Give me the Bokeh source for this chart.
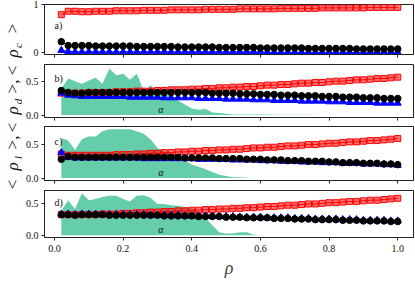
import math
from bokeh.plotting import figure
from bokeh.layouts import row, column
from bokeh.models import Range1d, FixedTicker, PrintfTickFormatter, CustomJSTickFormatter, Label
from bokeh.embed import file_html
from bokeh.resources import INLINE

# ---------------- data ----------------
rho = [0.02, 0.04, 0.06, 0.08, 0.10, 0.12, 0.14, 0.16, 0.18, 0.20,
       0.22, 0.24, 0.26, 0.28, 0.30, 0.32, 0.34, 0.36, 0.38, 0.40,
       0.42, 0.44, 0.46, 0.48, 0.50, 0.52, 0.54, 0.56, 0.58, 0.60,
       0.62, 0.64, 0.66, 0.68, 0.70, 0.72, 0.74, 0.76, 0.78, 0.80,
       0.82, 0.84, 0.86, 0.88, 0.90, 0.92, 0.94, 0.96, 0.98, 1.00]

# panel a
red_a = [0.79, 0.86, 0.86, 0.85, 0.85, 0.86, 0.86, 0.86, 0.87, 0.87,
         0.87, 0.87, 0.88, 0.88, 0.88, 0.88, 0.89, 0.89, 0.89, 0.89,
         0.89, 0.90, 0.90, 0.90, 0.90, 0.90, 0.91, 0.91, 0.91, 0.91,
         0.91, 0.91, 0.92, 0.92, 0.92, 0.92, 0.92, 0.92, 0.93, 0.93,
         0.93, 0.93, 0.93, 0.93, 0.93, 0.94, 0.94, 0.94, 0.94, 0.94]
black_a = [0.23, 0.15, 0.15, 0.15, 0.15, 0.14, 0.14, 0.14, 0.14, 0.14,
           0.14, 0.13, 0.13, 0.13, 0.13, 0.13, 0.13, 0.12, 0.12, 0.12,
           0.12, 0.12, 0.12, 0.11, 0.11, 0.11, 0.11, 0.11, 0.11, 0.10,
           0.10, 0.10, 0.10, 0.10, 0.10, 0.10, 0.09, 0.09, 0.09, 0.09,
           0.09, 0.09, 0.09, 0.08, 0.08, 0.08, 0.08, 0.08, 0.08, 0.08]
blue_a = [0.05, 0.03, 0.02, 0.02, 0.02, 0.02, 0.02, 0.02, 0.02, 0.02,
          0.02, 0.02, 0.02, 0.02, 0.02, 0.02, 0.02, 0.02, 0.02, 0.02,
          0.02, 0.02, 0.02, 0.02, 0.02, 0.02, 0.02, 0.02, 0.02, 0.02,
          0.01, 0.01, 0.01, 0.01, 0.01, 0.01, 0.01, 0.01, 0.01, 0.01,
          0.01, 0.01, 0.01, 0.01, 0.01, 0.01, 0.01, 0.01, 0.01, 0.01]

# panel b
red_b = [0.33, 0.33, 0.33, 0.33, 0.34, 0.34, 0.34, 0.34, 0.35, 0.35,
         0.35, 0.36, 0.36, 0.36, 0.37, 0.37, 0.38, 0.38, 0.38, 0.39,
         0.39, 0.40, 0.40, 0.41, 0.41, 0.42, 0.42, 0.43, 0.43, 0.44,
         0.45, 0.45, 0.46, 0.46, 0.47, 0.48, 0.48, 0.49, 0.49, 0.50,
         0.51, 0.51, 0.52, 0.53, 0.53, 0.54, 0.55, 0.55, 0.56, 0.57]
black_b = [0.37, 0.34, 0.33, 0.33, 0.34, 0.34, 0.34, 0.34, 0.34, 0.34,
           0.34, 0.34, 0.34, 0.34, 0.34, 0.34, 0.34, 0.34, 0.34, 0.34,
           0.34, 0.34, 0.33, 0.33, 0.33, 0.33, 0.32, 0.32, 0.32, 0.31,
           0.31, 0.31, 0.30, 0.30, 0.30, 0.29, 0.29, 0.29, 0.28, 0.28,
           0.28, 0.27, 0.27, 0.27, 0.26, 0.26, 0.26, 0.25, 0.25, 0.25]
blue_b = [0.33, 0.30, 0.29, 0.28, 0.28, 0.28, 0.28, 0.28, 0.28, 0.28,
          0.27, 0.27, 0.27, 0.27, 0.27, 0.26, 0.26, 0.26, 0.26, 0.26,
          0.25, 0.25, 0.25, 0.25, 0.24, 0.24, 0.24, 0.24, 0.23, 0.23,
          0.23, 0.22, 0.22, 0.22, 0.22, 0.21, 0.21, 0.21, 0.21, 0.20,
          0.20, 0.20, 0.19, 0.19, 0.19, 0.19, 0.18, 0.18, 0.18, 0.18]
alpha_b = [0.40, 0.55, 0.51, 0.47, 0.52, 0.56, 0.47, 0.70, 0.60, 0.62,
           0.53, 0.62, 0.36, 0.45, 0.36, 0.33, 0.28, 0.22, 0.16, 0.10,
           0.08, 0.09, 0.04, 0.03, 0.02, 0.01, 0.01, 0.01, 0.01, 0.01,
           0.01, 0.005, 0.005, 0.005, 0.005, 0.005, 0.005, 0.0, 0.0, 0.0,
           0.0, 0.0, 0.0, 0.0, 0.0, 0.0, 0.0, 0.0, 0.0, 0.0]

# panel c
red_c = [0.36, 0.34, 0.34, 0.34, 0.34, 0.34, 0.34, 0.34, 0.35, 0.35,
         0.35, 0.36, 0.36, 0.37, 0.37, 0.38, 0.38, 0.39, 0.39, 0.40,
         0.40, 0.41, 0.41, 0.42, 0.42, 0.43, 0.43, 0.44, 0.45, 0.45,
         0.46, 0.46, 0.47, 0.48, 0.48, 0.49, 0.50, 0.50, 0.51, 0.52,
         0.52, 0.53, 0.54, 0.54, 0.55, 0.56, 0.56, 0.57, 0.58, 0.59]
black_c = [0.28, 0.32, 0.31, 0.31, 0.31, 0.31, 0.31, 0.31, 0.31, 0.31,
           0.31, 0.31, 0.31, 0.31, 0.31, 0.31, 0.31, 0.31, 0.30, 0.30,
           0.30, 0.30, 0.30, 0.29, 0.29, 0.29, 0.29, 0.28, 0.28, 0.28,
           0.27, 0.27, 0.27, 0.26, 0.26, 0.26, 0.25, 0.25, 0.25, 0.24,
           0.24, 0.23, 0.23, 0.23, 0.22, 0.22, 0.22, 0.21, 0.21, 0.20]
blue_c = [0.38, 0.31, 0.30, 0.30, 0.30, 0.30, 0.30, 0.30, 0.30, 0.30,
          0.30, 0.30, 0.29, 0.29, 0.29, 0.29, 0.29, 0.29, 0.29, 0.29,
          0.28, 0.28, 0.28, 0.28, 0.28, 0.27, 0.27, 0.27, 0.27, 0.26,
          0.26, 0.26, 0.25, 0.25, 0.25, 0.24, 0.24, 0.24, 0.23, 0.23,
          0.23, 0.22, 0.22, 0.22, 0.21, 0.21, 0.21, 0.20, 0.20, 0.19]
alpha_c = [0.60, 0.56, 0.42, 0.58, 0.62, 0.62, 0.70, 0.73, 0.73, 0.73,
           0.73, 0.70, 0.66, 0.58, 0.45, 0.40, 0.36, 0.33, 0.27, 0.20,
           0.17, 0.13, 0.09, 0.05, 0.03, 0.01, 0.01, 0.005, 0.0, 0.0,
           0.0, 0.0, 0.0, 0.0, 0.0, 0.0, 0.0, 0.0, 0.0, 0.0,
           0.0, 0.0, 0.0, 0.0, 0.0, 0.0, 0.0, 0.0, 0.0, 0.0]

# panel d
red_d = [0.33, 0.33, 0.33, 0.33, 0.33, 0.33, 0.34, 0.34, 0.34, 0.35,
         0.35, 0.36, 0.36, 0.37, 0.37, 0.38, 0.38, 0.39, 0.39, 0.40,
         0.40, 0.41, 0.41, 0.42, 0.42, 0.43, 0.43, 0.44, 0.44, 0.45,
         0.46, 0.46, 0.47, 0.48, 0.48, 0.49, 0.50, 0.50, 0.51, 0.52,
         0.52, 0.53, 0.54, 0.54, 0.55, 0.56, 0.56, 0.57, 0.58, 0.59]
black_d = [0.33, 0.33, 0.32, 0.33, 0.33, 0.33, 0.33, 0.32, 0.32, 0.32,
           0.32, 0.32, 0.32, 0.32, 0.32, 0.31, 0.31, 0.31, 0.31, 0.31,
           0.30, 0.30, 0.30, 0.30, 0.29, 0.29, 0.29, 0.28, 0.28, 0.28,
           0.28, 0.27, 0.27, 0.27, 0.26, 0.26, 0.26, 0.25, 0.25, 0.25,
           0.25, 0.24, 0.24, 0.24, 0.23, 0.23, 0.23, 0.23, 0.22, 0.22]
blue_d = [0.34, 0.34, 0.33, 0.34, 0.34, 0.34, 0.33, 0.33, 0.33, 0.33,
          0.33, 0.33, 0.33, 0.32, 0.32, 0.32, 0.32, 0.32, 0.31, 0.31,
          0.31, 0.31, 0.30, 0.30, 0.30, 0.30, 0.29, 0.29, 0.29, 0.29,
          0.28, 0.28, 0.28, 0.28, 0.27, 0.27, 0.27, 0.26, 0.26, 0.26,
          0.26, 0.25, 0.25, 0.25, 0.24, 0.24, 0.24, 0.24, 0.23, 0.23]
alpha_d = [0.39, 0.56, 0.42, 0.67, 0.56, 0.58, 0.61, 0.63, 0.63, 0.58,
           0.54, 0.63, 0.64, 0.60, 0.50, 0.50, 0.48, 0.47, 0.45, 0.43,
           0.38, 0.28, 0.16, 0.05, 0.03, 0.03, 0.05, 0.05, 0.01, 0.0,
           0.0, 0.0, 0.0, 0.0, 0.0, 0.0, 0.0, 0.0, 0.0, 0.0,
           0.0, 0.0, 0.0, 0.0, 0.0, 0.0, 0.0, 0.0, 0.0, 0.0]

panel_tags = ["a)", "b)", "c)", "d)"]
x_ticks = [0.0, 0.2, 0.4, 0.6, 0.8, 1.0]

# ---------------- styling ----------------
SERIF = "Liberation Serif"
GREEN = "#66cdaa"
FRAME = "#222222"

xr = Range1d(-0.029, 1.046)

specs = [
    dict(red=red_a, black=black_a, blue=blue_a, alpha=None, yr=(-0.035, 1.0),
         yt=[0, 1], fmt="%d", h=63, top=4, bottom=9, tag_y=0.57),
    dict(red=red_b, black=black_b, blue=blue_b, alpha=alpha_b, yr=(-0.036, 0.76),
         yt=[0.0, 0.5], fmt="%.1f", h=62, top=1, bottom=8, tag_y=0.55),
    dict(red=red_c, black=black_c, blue=blue_c, alpha=alpha_c, yr=(-0.037, 0.77),
         yt=[0.0, 0.5], fmt="%.1f", h=64, top=1, bottom=9, tag_y=0.54),
    dict(red=red_d, black=black_d, blue=blue_d, alpha=alpha_d, yr=(-0.034, 0.714),
         yt=[0.0, 0.5], fmt="%.1f", h=91, top=1, bottom=38, tag_y=0.53),
]

panels = []
for i, s in enumerate(specs):
    last = i == len(specs) - 1
    p = figure(width=393, height=s["h"], x_range=xr,
               y_range=Range1d(*s["yr"]), output_backend="svg",
               toolbar_location=None, min_border_left=19, min_border_right=2,
               min_border_top=s["top"], min_border_bottom=s["bottom"])
    p.grid.visible = False
    p.outline_line_color = FRAME
    p.outline_line_width = 1
    p.outline_line_alpha = 1
    p.background_fill_color = "white"
    p.border_fill_color = "white"

    for ax in (p.xaxis[0], p.yaxis[0]):
        ax.axis_line_color = FRAME
        ax.major_tick_line_color = FRAME
        ax.major_tick_out = 3
        ax.major_tick_in = 0
        ax.minor_tick_line_color = None
        ax.major_label_text_font = SERIF
        ax.major_label_text_font_size = "10px"
        ax.major_label_text_color = "#111111"
        ax.major_label_standoff = 3

    p.xaxis.ticker = FixedTicker(ticks=x_ticks)
    p.yaxis.ticker = FixedTicker(ticks=s["yt"])
    p.yaxis.formatter = PrintfTickFormatter(format=s["fmt"])
    if last:
        p.xaxis.formatter = PrintfTickFormatter(format="%.1f")
        p.xaxis.axis_label = "ρ"
        p.xaxis.axis_label_text_font = SERIF
        p.xaxis.axis_label_text_font_style = "italic"
        p.xaxis.axis_label_text_font_size = "18px"
        p.xaxis.axis_label_standoff = 3
        p.xaxis.major_label_standoff = 4
    else:
        p.xaxis.formatter = CustomJSTickFormatter(code="return ''")

    if s["alpha"] is not None:
        p.varea(x=rho, y1=[0.0] * len(rho), y2=s["alpha"], fill_color=GREEN, fill_alpha=1.0)
        p.add_layout(Label(x=0.31, y=0.09, text="α", text_font=SERIF,
                           text_font_style="italic", text_font_size="10px",
                           text_align="center", text_baseline="middle", text_color="#111111"))

    p.line(rho, s["red"], line_color="red", line_width=1)
    p.scatter(rho, s["red"], marker="square", size=6, fill_color="red",
              fill_alpha=0.55, line_color="red", line_width=1)
    p.line(rho, s["blue"], line_color="blue", line_width=1)
    p.scatter(rho, s["blue"], marker="triangle", size=7, fill_color="blue",
              line_color="blue")
    p.line(rho, s["black"], line_color="black", line_width=1)
    p.scatter(rho, s["black"], marker="circle", size=6.5, fill_color="black",
              line_color="black")

    p.add_layout(Label(x=0.0, y=s["tag_y"], text=panel_tags[i], text_font=SERIF,
                       text_font_size="10px", text_baseline="middle", text_color="#111111"))
    panels.append(p)

# ---------------- shared y label (rotated, composed with subscripts) ----------------
LH = sum(s["h"] for s in specs)
LW = 22
lab = figure(width=LW, height=LH, x_range=Range1d(0, LW), y_range=Range1d(0, LH),
             output_backend="svg", toolbar_location=None,
             x_axis_location=None, y_axis_location=None,
             min_border=0, min_border_left=0, min_border_right=0,
             min_border_top=0, min_border_bottom=0)
lab.grid.visible = False
lab.outline_line_color = None
lab.border_fill_color = "white"

# (page y centre, text, style, is_subscript)
tokens = [
    (184, "<", "normal", False), (166, "ρ", "italic", False), (157, "l", "italic", True),
    (142, ">,", "normal", False),
    (127, "<", "normal", False), (110, "ρ", "italic", False), (101, "d", "italic", True),
    (86, ">,", "normal", False),
    (70, "<", "normal", False), (53, "ρ", "italic", False), (45, "c", "italic", True),
    (28, ">", "normal", False),
]
for py, t, style, sub in tokens:
    lab.add_layout(Label(x=(17 if sub else 12), y=LH - py, text=t, angle=math.pi / 2,
                         text_font=SERIF, text_font_style=style,
                         text_font_size=("11px" if sub else "17px"),
                         text_align="center", text_baseline="middle", text_color="#111111"))

layout = row(lab, column(*panels, spacing=0), spacing=0)
open("out.html", "w").write(file_html(layout, INLINE))
